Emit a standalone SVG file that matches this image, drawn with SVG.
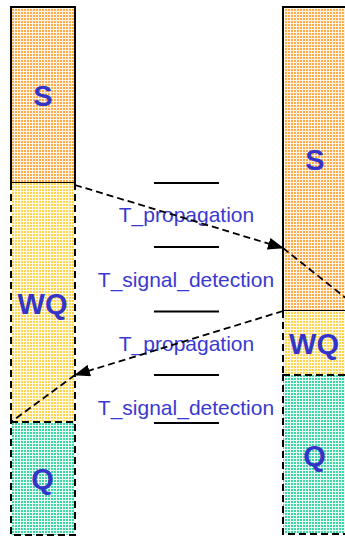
<svg xmlns="http://www.w3.org/2000/svg" width="345" height="538" viewBox="0 0 345 538">
<style>
.lbl{font-family:"Liberation Sans",Arial,sans-serif;font-weight:bold;font-size:29px;fill:#3434c8;text-anchor:middle}
.t{font-family:"Liberation Sans",Arial,sans-serif;font-size:21px;fill:#3a3ad0;text-anchor:middle}
.solid{fill:none;stroke:#000;stroke-width:2}
.dash{fill:none;stroke:#000;stroke-width:2;stroke-dasharray:7 4}
.conn{fill:none;stroke:#000;stroke-width:1.8;stroke-dasharray:7 4}
.tick{stroke:#000;stroke-width:1.8}
</style>
<defs>
<pattern id="pS" width="3" height="3" patternUnits="userSpaceOnUse"><rect width="3" height="3" fill="#fff4e6"/><rect width="2" height="2" fill="#ffab4a"/></pattern>
<pattern id="pW" width="3" height="3" patternUnits="userSpaceOnUse"><rect width="3" height="3" fill="#fffae6"/><rect width="2" height="2" fill="#ffd452"/></pattern>
<pattern id="pQ" width="3" height="3" patternUnits="userSpaceOnUse"><rect width="3" height="3" fill="#e8fbf4"/><rect width="2" height="2" fill="#3fd6a6"/></pattern>
<marker id="ah" markerWidth="16" markerHeight="12" refX="15" refY="6" orient="auto" markerUnits="userSpaceOnUse"><path d="M0,0 L16,6 L0,12 Z" fill="#000"/></marker>
</defs>
<g id="left-S"><rect x="11" y="7" width="64" height="176" fill="url(#pS)"/><rect class="solid" x="11" y="7" width="64" height="176"/><text class="lbl" x="43" y="106">S</text></g>
<g id="left-WQ"><rect x="11" y="183" width="64" height="239" fill="url(#pW)"/><path class="dash" d="M11,183 V422 M75,183 V422"/><text class="lbl" x="42.5" y="314">WQ</text></g>
<g id="left-Q"><rect x="11" y="422" width="64" height="113" fill="url(#pQ)"/><rect class="dash" x="11" y="422" width="64" height="113"/><text class="lbl" x="42.5" y="489">Q</text></g>
<g id="right-S"><rect x="283" y="7" width="64" height="304" fill="url(#pS)"/><rect class="solid" x="283" y="7" width="64" height="304"/><text class="lbl" x="315" y="170">S</text></g>
<g id="right-WQ"><rect x="283" y="311" width="64" height="64" fill="url(#pW)"/><path class="dash" d="M283,311 V375"/><text class="lbl" x="314" y="354">WQ</text></g>
<g id="right-Q"><rect x="283" y="375" width="64" height="159" fill="url(#pQ)"/><rect class="dash" x="283" y="375" width="64" height="159"/><text class="lbl" x="314.5" y="466">Q</text></g>
<g id="ticks">
<line class="tick" x1="154" y1="183" x2="219" y2="183"/>
<line class="tick" x1="154" y1="247" x2="219" y2="247"/>
<line class="tick" x1="154" y1="311.5" x2="219" y2="311.5"/>
<line class="tick" x1="154" y1="375" x2="219" y2="375"/>
<line class="tick" x1="154" y1="423" x2="219" y2="423"/>
</g>
<g id="labels">
<text class="t" x="186.5" y="222">T_propagation</text>
<text class="t" x="186" y="287">T_signal_detection</text>
<text class="t" x="186.5" y="351">T_propagation</text>
<text class="t" x="186" y="415">T_signal_detection</text>
</g>
<g id="connectors">
<path class="conn" d="M75,185 L283,248" marker-end="url(#ah)"/>
<path class="conn" d="M283,248 L347,299"/>
<path class="conn" d="M283,311 L75,375" marker-end="url(#ah)"/>
<path class="conn" d="M75,375 L11,422"/>
</g>
</svg>
